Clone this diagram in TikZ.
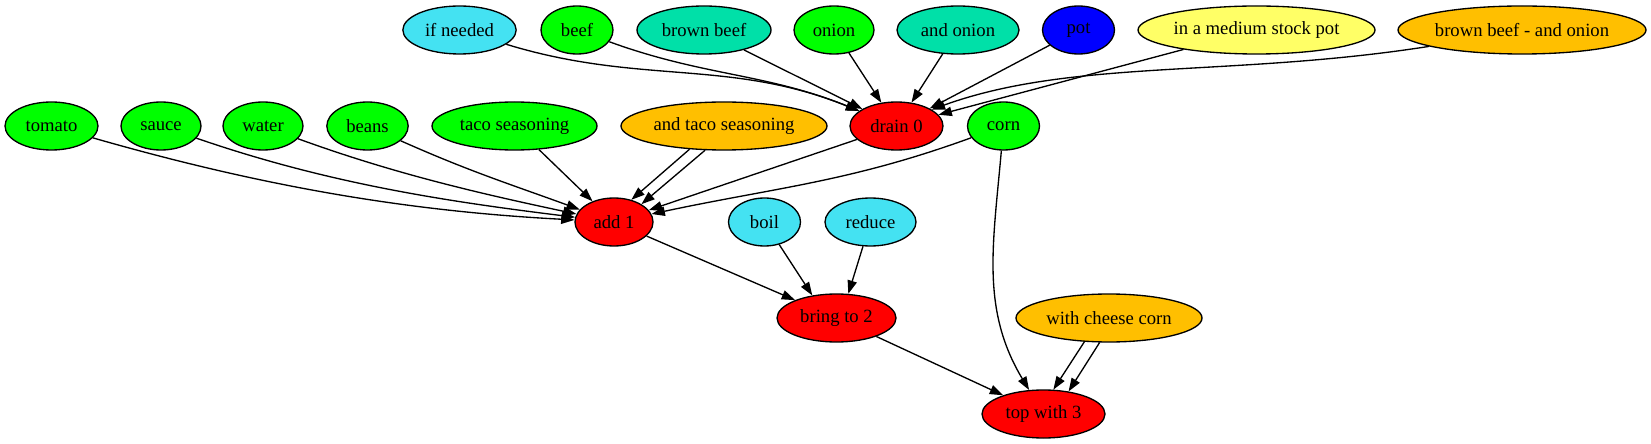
\documentclass[tikz,border=0pt]{standalone}
\usepackage{fontspec}
\setmainfont{Liberation Serif}
\usetikzlibrary{shapes.geometric, arrows.meta}

\definecolor{notecyan}{RGB}{68,226,242}
\definecolor{actionteal}{RGB}{0,224,168}
\definecolor{placeyellow}{RGB}{255,255,102}
\definecolor{phraseamber}{RGB}{255,191,0}

\begin{document}
\begin{tikzpicture}[x=0.75pt, y=0.75pt, >={Triangle[length=10pt, width=7pt]},
  every node/.style={ellipse, draw, line width=1pt, inner sep=0pt,
    minimum height=36pt, font=\fontsize{14}{16}\selectfont},
  every path/.style={line width=1pt},
  ingredient/.style={fill=green},
  note/.style={fill=notecyan},
  action/.style={fill=actionteal},
  tool/.style={fill=blue},
  place/.style={fill=placeyellow},
  phrase/.style={fill=phraseamber},
  stepnode/.style={fill=red}]
  \useasboundingbox (0,0) rectangle (1651,443);

  % Row 1: what goes into drain 0
  \node[note, minimum width=85pt] (ifneeded) at (459.5,413) {if needed};
  \node[ingredient, minimum width=54pt] (beef) at (577,413) {beef};
  \node[action, minimum width=100.5pt] (brownbeef) at (704,413) {brown beef};
  \node[ingredient, minimum width=60pt] (onion) at (834,413) {onion};
  \node[action, minimum width=91.5pt] (andonion) at (958,413) {and onion};
  \node[tool, minimum width=54pt] (pot) at (1078.5,413) {pot};
  \node[place, minimum width=177.75pt] (stockpot) at (1256.5,413) {in a medium stock pot};
  \node[phrase, minimum width=186pt] (bbonion) at (1522,413) {brown beef - and onion};

  % Row 2: what goes into add 1
  \node[ingredient, minimum width=69.75pt] (tomato) at (51.5,317) {tomato};
  \node[ingredient, minimum width=60pt] (sauce) at (161,317) {sauce};
  \node[ingredient, minimum width=60pt] (water) at (263,317) {water};
  \node[ingredient, minimum width=61pt] (beans) at (367.5,317) {beans};
  \node[ingredient, minimum width=123.75pt] (taco) at (514.5,317) {taco seasoning};
  \node[phrase, minimum width=154.5pt] (andtaco) at (724,317) {and taco seasoning};
  \node[stepnode, minimum width=69.75pt] (drain) at (896.5,317) {drain 0};
  \node[ingredient, minimum width=54pt] (corn) at (1003.5,317) {corn};

  % Row 3
  \node[stepnode, minimum width=58.5pt] (add) at (614,221) {add 1};
  \node[note, minimum width=54pt] (boil) at (764.5,221) {boil};
  \node[note, minimum width=68.25pt] (reduce) at (870.5,221) {reduce};

  % Row 4 and 5
  \node[stepnode, minimum width=89.25pt] (bring) at (836.5,125) {bring to 2};
  \node[phrase, minimum width=139.5pt] (cheese) at (1109,125) {with cheese corn};
  \node[stepnode, minimum width=92.25pt] (top) at (1043.5,29) {top with 3};

  % Edges into drain 0
  \draw[->] (ifneeded) to[out=-17, in=158] (drain);
  \draw[->] (beef) to[out=-20, in=158] (drain);
  \draw[->] (brownbeef) -- (drain);
  \draw[->] (onion) -- (drain);
  \draw[->] (andonion) -- (drain);
  \draw[->] (pot) -- (drain);
  \draw[->] (stockpot) -- (drain);
  \draw[->] (bbonion.190) .. controls +(-198,-31) and +(141,51) .. (drain.25);

  % Edges into add 1 (and taco seasoning twice)
  \draw[->] (tomato) to[out=-16, in=177, looseness=0.9] (add);
  \draw[->] (sauce) to[out=-19, in=173, looseness=0.9] (add);
  \draw[->] (water) to[out=-20, in=168, looseness=0.9] (add);
  \draw[->] (beans) to[out=-24, in=160] (add);
  \draw[->] (taco) -- (add);
  \draw[->] (andtaco.214) -- (add.52);
  \draw[->] (andtaco.232) -- (add.33);
  \draw[->] (drain) -- (add);
  \draw[->] (corn) to[out=200, in=12] (add);

  % Edges into bring to 2 and top with 3
  \draw[->] (add) -- (bring);
  \draw[->] (boil) -- (bring.137);
  \draw[->] (reduce) -- (bring.64);
  \draw[->] (bring) -- (top);
  \draw[->] (corn) to[out=-95, in=121] (top);
  \draw[->] (cheese.224) -- (top.68);
  \draw[->] (cheese.249) -- (top.42);
\end{tikzpicture}
\end{document}
